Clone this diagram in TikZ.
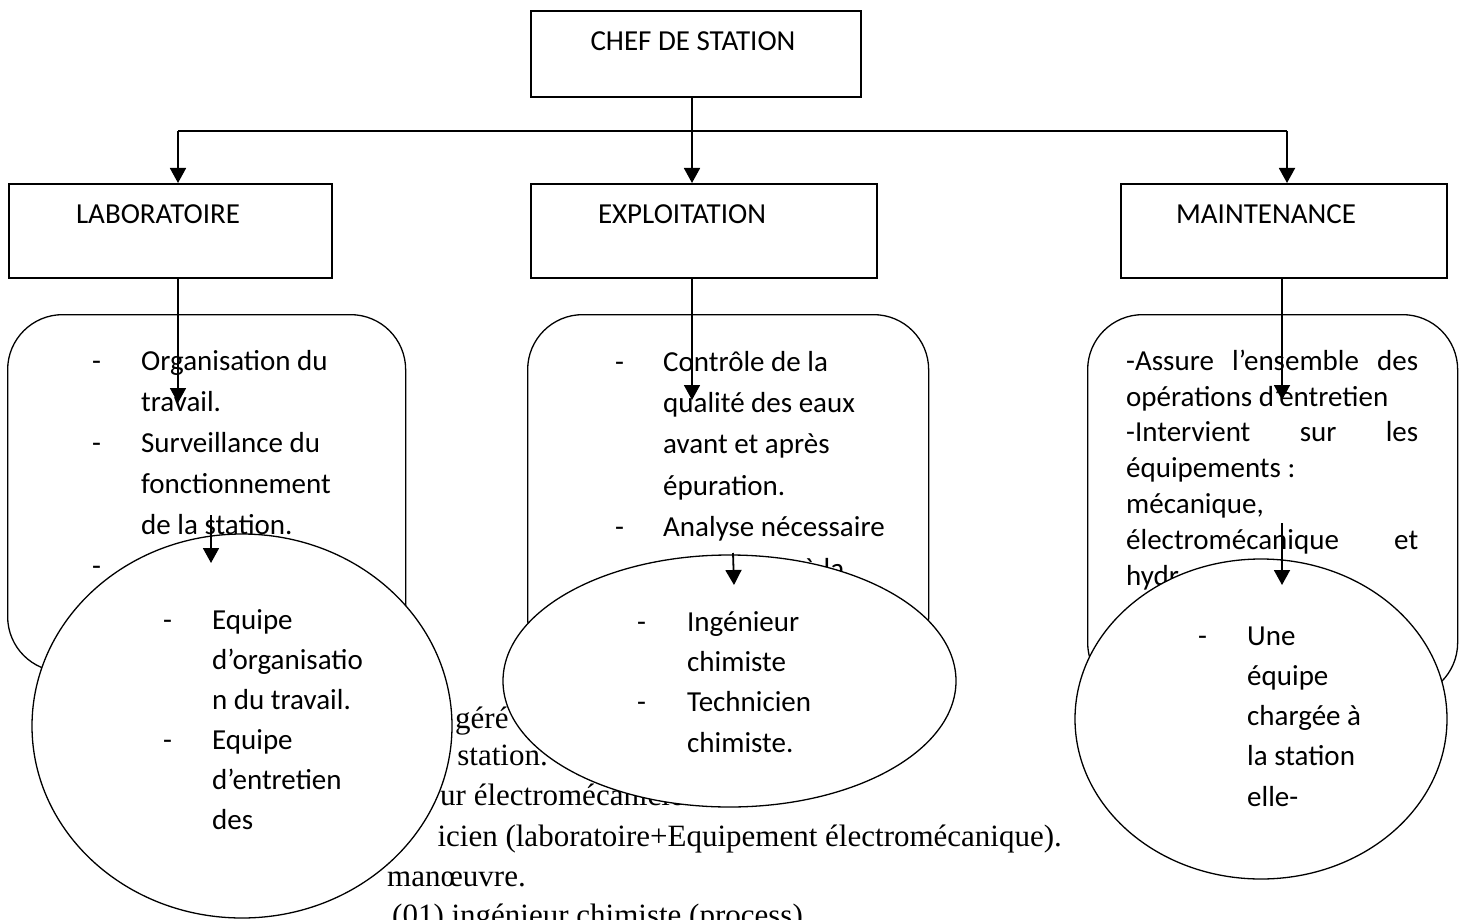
\documentclass[tikz,border=0pt]{standalone}
\usepackage{fontspec}
\setmainfont{Carlito}
\newfontfamily\tnr{Liberation Serif}
\usetikzlibrary{arrows.meta,shapes.geometric}
\begin{document}
\begin{tikzpicture}[x=1pt,y=-1pt,
  hdr/.style={draw, line width=1.8pt, fill=white, inner sep=0, anchor=north west},
  rbox/.style={draw, line width=1.3pt, fill=white, rounded corners=55pt, inner sep=0, anchor=north west},
  ell/.style={draw, line width=1.3pt, fill=white, ellipse, inner sep=0},
  txt/.style={inner sep=0, anchor=base west, align=left},
  ttl/.style={inner sep=0, anchor=base, font=\fontsize{29}{35}\selectfont},
  tms/.style={inner sep=0, font=\tnr\fontsize{31}{37}\selectfont},
  conn/.style={line width=1.8pt},
  arr/.style={line width=1.8pt, -{Triangle[width=16pt,length=15pt]}},
]
\useasboundingbox (0,0) rectangle (1461,920);
\clip (0,0) rectangle (1461,920);
\fill[white] (0,0) rectangle (1461,920);

% background text lines (partly hidden)
\node[tms, anchor=base west] (t1) at (455,728) {géré};
\node[tms, anchor=base east] (t2) at (548,765) {station.};
\node[tms, anchor=base west] (t3) at (440,805) {ur électromécanicien.};
\node[tms, anchor=base east] (t4) at (1062,846) {icien (laboratoire+Equipement électromécanique).};
\node[tms, anchor=base east] (t5) at (526,886) {manœuvre.};
\node[tms, anchor=base west] (t6) at (392,925) {(01) ingénieur chimiste (process).};

% header boxes
\node[hdr, minimum width=330pt, minimum height=86pt] (chef) at (530,10) {};
\node[ttl] (cheft) at (693,51) {CHEF DE STATION};
\node[hdr, minimum width=323pt, minimum height=94pt] (lab) at (8,183) {};
\node[ttl] (labt) at (158,223) {LABORATOIRE};
\node[hdr, minimum width=346pt, minimum height=94pt] (expl) at (530,183) {};
\node[ttl] (explt) at (682,223) {EXPLOITATION};
\node[hdr, minimum width=326pt, minimum height=94pt] (maint) at (1120,183) {};
\node[ttl] (maintt) at (1266,223) {MAINTENANCE};

% rounded boxes
\node[rbox, minimum width=398pt, minimum height=357pt] (labr) at (7,314) {};
\node[txt, font=\fontsize{29}{41}\selectfont] (labrt) at (92,575)
 {\makebox[49pt][l]{-}Organisation du\\\hspace*{49pt}travail.\\\makebox[49pt][l]{-}Surveillance du\\\hspace*{49pt}fonctionnement\\\hspace*{49pt}de la station.\\-};
\node[rbox, minimum width=401pt, minimum height=358pt] (explr) at (527,314) {};
\node[txt, font=\fontsize{29}{41.4}\selectfont] (explrt) at (615,578)
 {\makebox[48pt][l]{-}Contrôle de la\\\hspace*{48pt}qualité des eaux\\\hspace*{48pt}avant et après\\\hspace*{48pt}épuration.\\\makebox[48pt][l]{-}Analyse nécessaire\\\hspace*{188pt}à la};
\node[rbox, minimum width=370pt, minimum height=383pt] (maintr) at (1087,314) {};
\node[txt, font=\fontsize{29}{35.8}\selectfont] (maintrt) at (1126,585)
 {\makebox[292pt][s]{-Assure\hfill l’ensemble\hfill des}\\opérations d’entretien\\\makebox[292pt][s]{-Intervient\hfill sur\hfill les}\\équipements :\\mécanique,\\\makebox[292pt][s]{électromécanique\hfill et}\\hydr};

% ellipses
\node[ell, minimum width=420pt, minimum height=384pt] (labc) at (242,726) {};
\node[txt, font=\fontsize{29}{40}\selectfont] (labct) at (163,829)
 {\makebox[49pt][l]{-}Equipe\\\hspace*{49pt}d’organisatio\\\hspace*{49pt}n du travail.\\\makebox[49pt][l]{-}Equipe\\\hspace*{49pt}d’entretien\\\hspace*{49pt}des};
\node[ell, minimum width=453pt, minimum height=252pt] (explc) at (729.5,681) {};
\node[txt, font=\fontsize{29}{40.3}\selectfont] (explct) at (637,752)
 {\makebox[50pt][l]{-}Ingénieur\\\hspace*{50pt}chimiste\\\makebox[50pt][l]{-}Technicien\\\hspace*{50pt}chimiste.};
\node[ell, minimum width=372pt, minimum height=320pt] (maintc) at (1261,719) {};
\node[txt, font=\fontsize{29}{40.25}\selectfont] (maintct) at (1198,806)
 {\makebox[49pt][l]{-}Une\\\hspace*{49pt}équipe\\\hspace*{49pt}chargée à\\\hspace*{49pt}la station\\\hspace*{49pt}elle-};

% connectors
\coordinate (jl) at (178,131);
\coordinate (jm) at (692,131);
\coordinate (jr) at (1287,131);
\draw[conn] (jl) -- (jr);
\draw[arr] (chef.south -| jm) -- (expl.north -| jm);
\draw[arr] (jl) -- (lab.north -| jl);
\draw[arr] (jr) -- (maint.north -| jr);

\coordinate (a1) at (178,403);
\coordinate (a2) at (692,400);
\coordinate (a3) at (1282,400);
\draw[arr] (lab.south -| a1) -- (a1);
\draw[arr] (expl.south -| a2) -- (a2);
\draw[arr] (maint.south -| a3) -- (a3);

\coordinate (b1s) at (211,515);
\coordinate (b1) at (211,563);
\coordinate (b2s) at (733,553);
\coordinate (b2) at (734,585);
\coordinate (b3s) at (1282,523);
\coordinate (b3) at (1282,585);
\draw[arr] (b1s) -- (b1);
\draw[arr] (b2s) -- (b2);
\draw[arr] (b3s) -- (b3);
\end{tikzpicture}
\end{document}
